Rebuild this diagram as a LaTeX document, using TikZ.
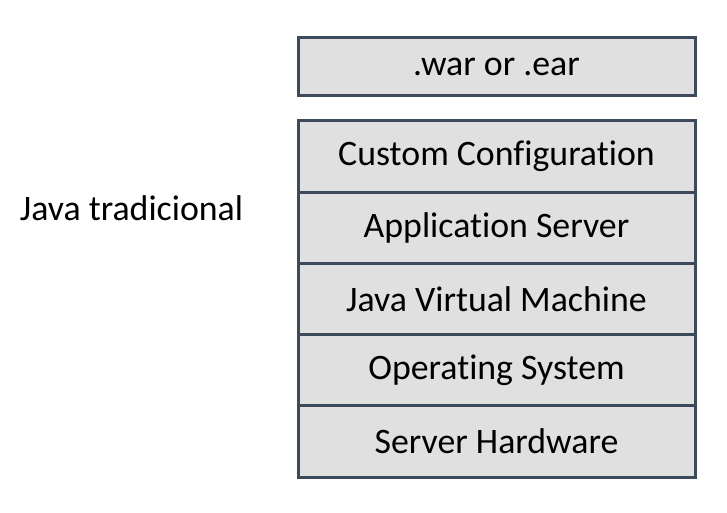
\documentclass[tikz,border=0pt]{standalone}
\usepackage{fontspec}
\setmainfont{Carlito}[Ligatures={NoCommon,NoContextual}]
\usepackage{tikz}
\usetikzlibrary{positioning}
\definecolor{layerborder}{HTML}{3D4A5C}
\definecolor{layerfill}{HTML}{E0E0E0}
\tikzset{
    layer/.style={draw=layerborder, fill=layerfill, line width=1.5pt,
        minimum width=198.5pt, minimum height=35.6pt, inner sep=0pt,
        outer sep=0pt, font=\fontsize{17.9}{21}\selectfont},
}
\def\raster{0.5pt}

\begin{document}
\begin{tikzpicture}[node distance=0pt]
    % canvas
    \useasboundingbox (0,0) rectangle (727*\raster,-513*\raster);

    % deployed archive
    \node[layer, minimum height=29pt] (war) at (496.5*\raster,-67*\raster) {.war or .ear};

    % stack
    \node[layer, anchor=north] (custom) at (496.5*\raster,-121*\raster) {Custom Configuration};
    \node[layer, below=of custom] (appserver) {Application Server};
    \node[layer, below=of appserver] (jvm) {Java Virtual Machine};
    \node[layer, below=of jvm] (os) {Operating System};
    \node[layer, below=of os] (hardware) {Server Hardware};

    % caption
    \node[font=\fontsize{17.9}{21}\selectfont] (java) at (131.5*\raster,-208*\raster) {Java tradicional};
\end{tikzpicture}
\end{document}
